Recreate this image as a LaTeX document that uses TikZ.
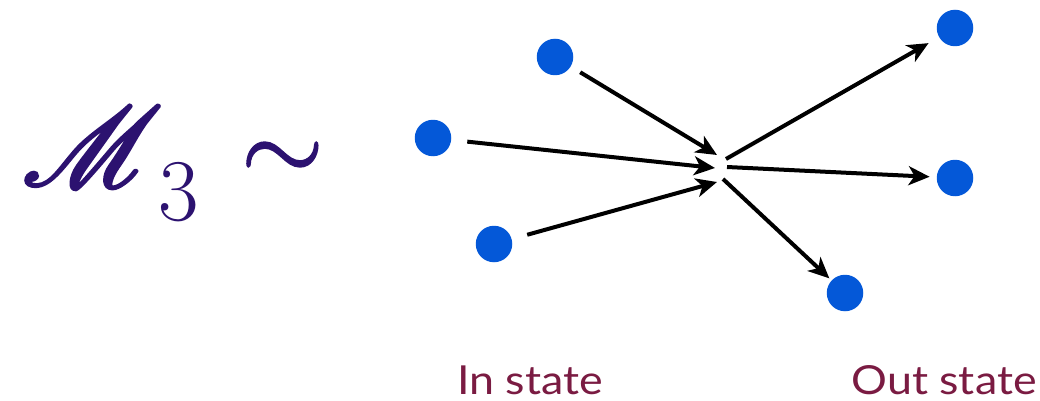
\documentclass[tikz,border=0pt]{standalone}
\usepackage{graphicx}
\usepackage{mathrsfs}
\usepackage{fontspec}
\newfontfamily\labfont{Lato}[FakeStretch=1.12]
\usetikzlibrary{arrows.meta}
\definecolor{dotblue}{RGB}{4,88,216}
\definecolor{indig}{RGB}{44,18,112}
\definecolor{maroon}{RGB}{122,27,66}
\newcommand{\thickM}{\scalebox{11.3}{\special{pdf:literal direct 2 Tr 0.22 w}$\mathscr{M}$\special{pdf:literal direct 0 Tr}}}
\newcommand{\thickSim}{\scalebox{10.6}{\special{pdf:literal direct 2 Tr 0.15 w}$\sim$\special{pdf:literal direct 0 Tr}}}
\tikzset{
  dot/.style={circle,fill=dotblue,minimum size=36.5pt,inner sep=0pt},
  arr/.style={line width=4pt,-{Stealth[length=21pt,width=19pt,inset=6pt]}},
  lab/.style={text=maroon,font=\labfont\fontsize{40}{40}\selectfont,anchor=base,inner sep=0pt},
  mtxt/.style={text=indig,inner sep=0pt}
}
\begin{document}
\begin{tikzpicture}[x=1pt,y=-1pt]
\useasboundingbox (0,0) rectangle (1040,401);
% formula
\node[mtxt,anchor=base west] (M) at (22,186) {\thickM};
\node[mtxt,anchor=base west] (three) at (158,220) {\fontsize{88}{88}\selectfont 3};
\node[mtxt,anchor=base west] (tilde) at (241,181) {\thickSim};
% dots
\node[dot] (d1) at (555,57) {};
\node[dot] (d2) at (433,138) {};
\node[dot] (d3) at (494,244) {};
\node[dot] (o1) at (955,28) {};
\node[dot] (o2) at (955,178) {};
\node[dot] (o3) at (845,293) {};
% vertex
\coordinate (i1) at (717,155);
\coordinate (i2) at (715,168);
\coordinate (i3) at (717,182);
\coordinate (s1) at (726,159);
\coordinate (s2) at (727,167);
\coordinate (s3) at (723,179);
\draw[arr,shorten <=11pt] (d1) -- (i1);
\draw[arr,shorten <=16pt] (d2) -- (i2);
\draw[arr,shorten <=16pt] (d3) -- (i3);
\draw[arr,shorten >=12pt] (s1) -- (o1);
\draw[arr,shorten >=7pt] (s2) -- (o2);
\draw[arr,shorten >=3pt] (s3) -- (o3);
% labels
\node[lab] (inl) at (530,394) {In state};
\node[lab] (outl) at (944,394) {Out state};
\end{tikzpicture}
\end{document}
